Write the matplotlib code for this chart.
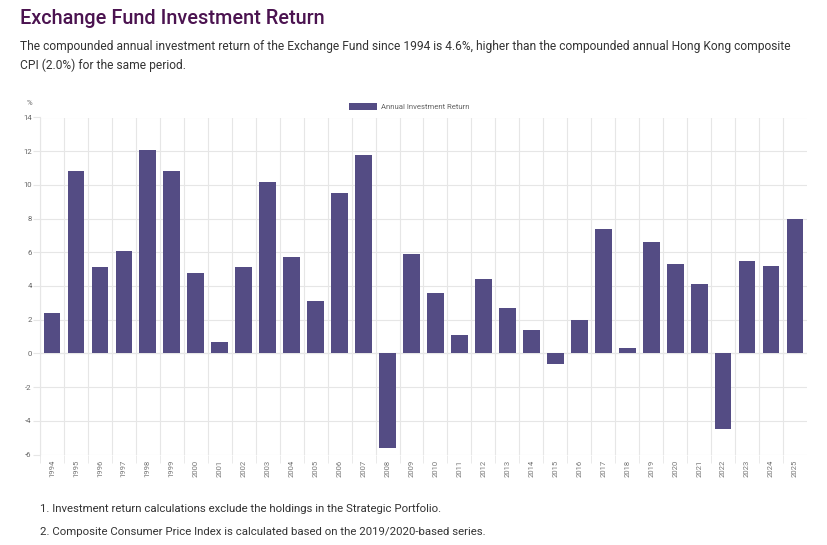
import numpy as np
import matplotlib.pyplot as plt

years = [str(y) for y in range(1994, 2026)]
returns = [2.4, 10.8, 5.1, 6.1, 12.1, 10.8, 4.8, 0.7, 5.1, 10.2, 5.7, 3.1, 9.5, 11.8, -5.6,
           5.9, 3.6, 1.1, 4.4, 2.7, 1.4, -0.6, 2.0, 7.4, 0.3, 6.6, 5.3, 4.1, -4.5, 5.5, 5.2, 8.0]
y_ticks = list(range(-6, 15, 2))

title = 'Exchange Fund Investment Return'
subtitle = ('The compounded annual investment return of the Exchange Fund since 1994 is 4.6%, higher than the compounded annual Hong Kong composite\n'
            'CPI (2.0%) for the same period.')
notes = ['1. Investment return calculations exclude the holdings in the Strategic Portfolio.',
         '2. Composite Consumer Price Index is calculated based on the 2019/2020-based series.']

plt.rcParams['font.family'] = ['Roboto', 'DejaVu Sans']

bar_color = '#544c84'
grid_color = '#e6e6e6'
tick_color = '#666666'

fig = plt.figure(figsize=(8.27, 5.45), dpi=100)
ax = fig.add_axes([40 / 827, 1 - 454.5 / 545, 767 / 827, 337 / 545])

x = np.arange(len(years))
ax.bar(x, returns, width=0.7, color=bar_color, label='Annual Investment Return', zorder=3)

ax.set_xlim(-0.5, len(years) - 0.5)
ax.set_ylim(-6, 14)
ax.set_yticks(y_ticks)
ax.set_yticklabels([str(t) for t in y_ticks], fontsize=5.6, color=tick_color)
ax.set_xticks(x)
ax.set_xticklabels(years, rotation=90, fontsize=5.5, color='#777777')
ax.tick_params(axis='x', length=0, pad=4)
ax.tick_params(axis='y', length=5, color=grid_color, pad=1)

# category boundary grid lines (incl. little ticks below the axis)
ax.set_xticks(np.arange(-0.5, len(years) - 0.5, 1), minor=True)
ax.tick_params(axis='x', which='minor', length=6, color=grid_color)
ax.grid(True, which='minor', axis='x', color=grid_color, linewidth=0.8, zorder=0)
ax.grid(True, which='major', axis='y', color=grid_color, linewidth=0.8, zorder=0)

for s in ['top', 'right', 'bottom']:
    ax.spines[s].set_visible(False)
ax.spines['left'].set_color(grid_color)
ax.axhline(0, color='#dddddd', linewidth=0.8, zorder=1)

ax.text(-0.01, 1.035, '%', transform=ax.transAxes, fontsize=5.6, color=tick_color, ha='right', va='bottom')

leg = ax.legend(loc='lower center', bbox_to_anchor=(0.482, 1.005), frameon=False, fontsize=5.6,
                handlelength=3.6, handleheight=0.9, handletextpad=0.5, borderaxespad=0.3)
for t in leg.get_texts():
    t.set_color(tick_color)

fig.text(20 / 827, 1 - 18 / 545, title, fontsize=14.3, color='#4b1350', fontweight='medium', va='center')
fig.text(20 / 827, 1 - 40 / 545, subtitle, fontsize=8.65, color='#333333', va='top', linespacing=1.55)
fig.text(40 / 827, 1 - 509 / 545, notes[0], fontsize=8.2, color='#333333', va='center')
fig.text(40 / 827, 1 - 532 / 545, notes[1], fontsize=8.2, color='#333333', va='center')

fig.savefig('out.png', dpi=100)
